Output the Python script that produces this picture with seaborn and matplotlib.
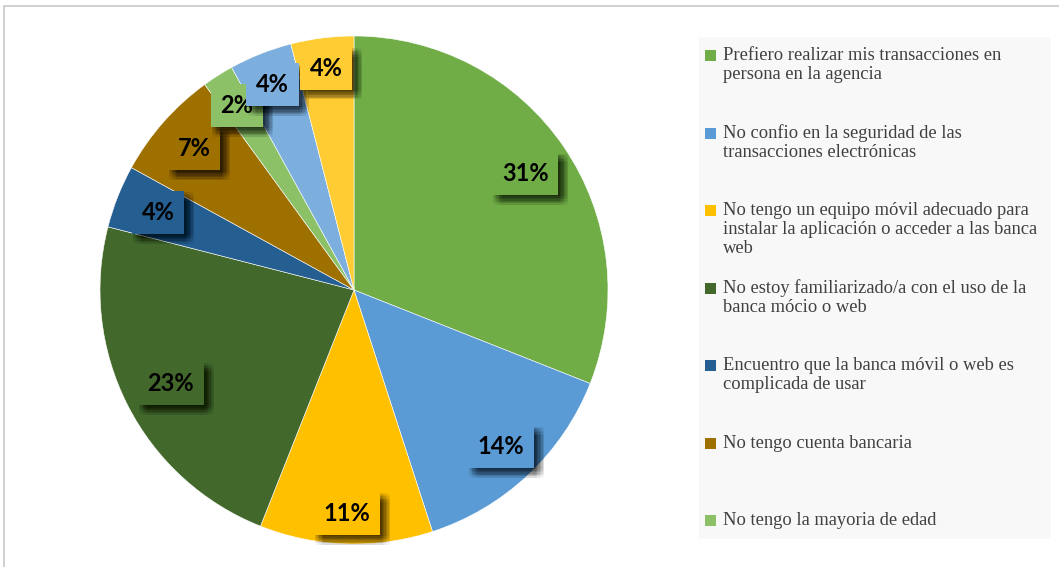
import matplotlib
matplotlib.use("Agg")
import numpy as np
import matplotlib.pyplot as plt
import matplotlib.patheffects as pe
from matplotlib.patches import Rectangle
import seaborn as sns

# Survey shares (percent), clockwise from the top
shares = [31, 14, 11, 23, 4, 7, 2, 4, 4]
slice_colors = ["#70ad47", "#5b9bd5", "#ffc000", "#43682b", "#255e91",
                "#9e7000", "#8cc168", "#7cafdd", "#ffcd33"]
legend_labels = [
    "Prefiero realizar mis transacciones en\npersona en la agencia",
    "No confio en la seguridad de las\ntransacciones electrónicas",
    "No tengo un equipo móvil adecuado para\ninstalar la aplicación o acceder a las banca\nweb",
    "No estoy familiarizado/a con el uso de la\nbanca mócio o web",
    "Encuentro que la banca móvil o web es\ncomplicada de usar",
    "No tengo cuenta bancaria",
    "No tengo la mayoria de edad",
]
# radial placement of each value label (fraction of the radius)
label_radius = [0.815, 0.846, 0.88, 0.81, 0.83, 0.84, 0.86, 0.87, 0.88]

sns.set_theme(style="white")
W, H = 1059, 567
fig = plt.figure(figsize=(W / 100, H / 100), dpi=100)
fig.patch.set_facecolor("white")

# thin frame along the top and left edges
fig.add_artist(Rectangle((4 / W, -0.1), 1.2, (H - 6) / H + 0.1, transform=fig.transFigure,
                         facecolor="none", edgecolor="#c8c8c8", linewidth=1.2))

# pie axes: centre (354, 290) px, radius 254 px
cx, cy, r = 354, 290, 254
ax = fig.add_axes([(cx - r) / W, (H - cy - r) / H, 2 * r / W, 2 * r / H])
wedges, texts = ax.pie(shares, colors=slice_colors, startangle=90, counterclock=False,
                       labels=[f"{v}%" for v in shares], labeldistance=0.85,
                       wedgeprops=dict(edgecolor="white", linewidth=0.4),
                       textprops=dict(fontsize=17, fontweight="bold", family="Lato",
                                      color="black", ha="center", va="center"))
ax.set_xlim(-1, 1)
ax.set_ylim(-1, 1)
ax.set_aspect("equal")
ax.axis("off")

# soft drop shadow built from several faint offset copies
shadow = []
for dx in (1, 2, 3, 4, 5, 6, 7):
    for dy in (-1, -2, -3, -4, -5, -6, -7):
        shadow.append(pe.withSimplePatchShadow(offset=(dx, dy), shadow_rgbFace="black",
                                               alpha=0.018))
shadow.append(pe.Normal())

for t, w, c, rad in zip(texts, wedges, slice_colors, label_radius):
    mid = np.deg2rad((w.theta1 + w.theta2) / 2)
    t.set_position((rad * np.cos(mid), rad * np.sin(mid)))
    t.set_ha("center")
    t.set_va("center")
    t.set_bbox(dict(boxstyle="square,pad=0.42", facecolor=c, edgecolor="none"))
    t.get_bbox_patch().set_path_effects(shadow)

# legend panel
lx0, ly0, lx1, ly1 = 699, 37, 1051, 539
fig.add_artist(Rectangle((lx0 / W, 1 - ly1 / H), (lx1 - lx0) / W, (ly1 - ly0) / H,
                         transform=fig.transFigure, facecolor="#f8f8f8", edgecolor="none"))
first_top = 50
pitch = 77.5
for i, (lab, c) in enumerate(zip(legend_labels, slice_colors)):
    top = first_top + i * pitch
    fig.add_artist(Rectangle((705 / W, 1 - (top + 11) / H), 11 / W, 11 / H,
                             transform=fig.transFigure, facecolor=c, edgecolor="none"))
    fig.text(723 / W, 1 - (top - 3) / H, lab, ha="left", va="top",
             fontsize=13.3, family="Liberation Serif", color="#404040", linespacing=1.15)

fig.savefig("out.png", dpi=100, facecolor="white")
